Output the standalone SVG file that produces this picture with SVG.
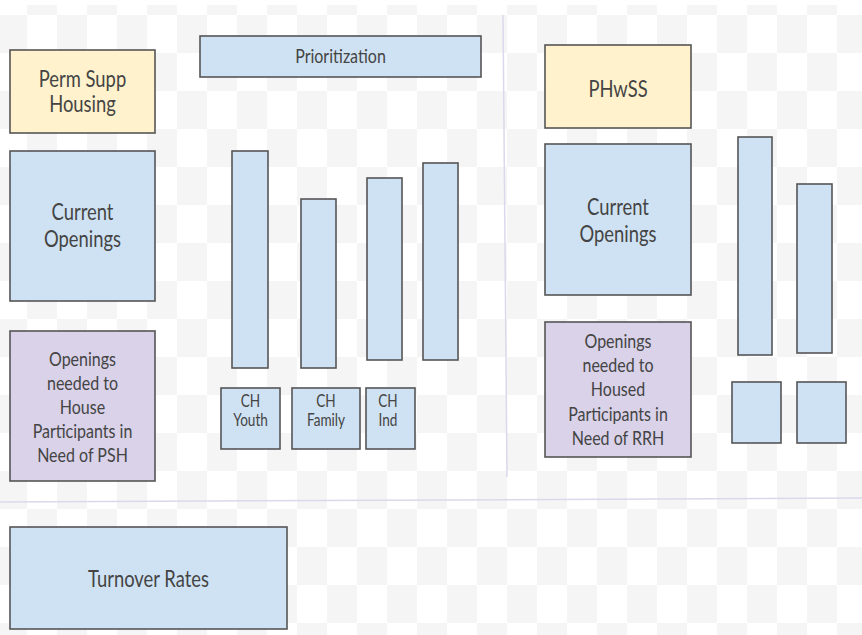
<svg xmlns="http://www.w3.org/2000/svg" width="862" height="635" viewBox="0 0 862 635">
  <defs>
    <pattern id="checker" patternUnits="userSpaceOnUse" x="27" y="15" width="60" height="76">
      <rect x="0" y="0" width="60" height="76" fill="#ffffff"/>
      <rect x="30" y="0" width="30" height="38" fill="#f5f5f5"/>
      <rect x="0" y="38" width="30" height="38" fill="#f5f5f5"/>
    </pattern>
  </defs>
  <style>
    .box { stroke: #555555; stroke-width: 1.6; }
    .blue { fill: #cfe2f3; }
    .yellow { fill: #fff2cc; }
    .purple { fill: #d9d2e9; }
    .t { font-family: Lato, "Open Sans", "Liberation Sans", sans-serif; font-weight: 400; fill: #444444; text-anchor: middle; }
    .big { font-size: 23px; }
    .pri { font-size: 20px; }
    .mid { font-size: 20px; }
    .sm { font-size: 17px; }
    .div { stroke: #dcd8ec; stroke-width: 1.5; fill: none; }
  </style>
  <rect x="0" y="0" width="862" height="635" fill="url(#checker)"/>
  <rect x="0" y="0" width="862" height="5" fill="#ffffff"/>

  <g id="dividers">
    <line class="div" x1="503" y1="15" x2="507" y2="477"/>
    <line class="div" x1="0" y1="502" x2="862" y2="498"/>
  </g>

  <g id="perm-supp-housing">
    <rect class="box yellow" x="10" y="50" width="145" height="83"/>
    <g transform="matrix(0.8 0 0 1 82.5 0)">
      <text class="t big" x="0" y="87">Perm Supp</text>
      <text class="t big" x="0" y="112">Housing</text>
    </g>
  </g>
  <g id="prioritization">
    <rect class="box blue" x="200" y="36" width="281" height="41"/>
    <g transform="matrix(0.8 0 0 1 340.5 0)">
      <text class="t pri" x="0" y="63">Prioritization</text>
    </g>
  </g>
  <g id="current-openings-psh">
    <rect class="box blue" x="10" y="151" width="145" height="150"/>
    <g transform="matrix(0.8 0 0 1 82.5 0)">
      <text class="t big" x="0" y="220">Current</text>
      <text class="t big" x="0" y="247">Openings</text>
    </g>
  </g>
  <g id="openings-needed-psh">
    <rect class="box purple" x="10" y="331" width="145" height="150"/>
    <g transform="matrix(0.8 0 0 1 82.5 0)">
      <text class="t mid" x="0" y="366">Openings</text>
      <text class="t mid" x="0" y="390">needed to</text>
      <text class="t mid" x="0" y="414">House</text>
      <text class="t mid" x="0" y="438">Participants in</text>
      <text class="t mid" x="0" y="462">Need of PSH</text>
    </g>
  </g>
  <g id="bar-ch-youth"><rect class="box blue" x="232" y="151" width="36" height="217"/></g>
  <g id="bar-ch-family"><rect class="box blue" x="301" y="199" width="35" height="169"/></g>
  <g id="bar-ch-ind"><rect class="box blue" x="367" y="178" width="35" height="182"/></g>
  <g id="bar-4"><rect class="box blue" x="423" y="163" width="35" height="197"/></g>
  <g id="ch-youth">
    <rect class="box blue" x="221" y="388" width="59" height="61"/>
    <g transform="matrix(0.8 0 0 1 250.5 0)">
      <text class="t sm" x="0" y="407">CH</text>
      <text class="t sm" x="0" y="426">Youth</text>
    </g>
  </g>
  <g id="ch-family">
    <rect class="box blue" x="292" y="388" width="68" height="61"/>
    <g transform="matrix(0.8 0 0 1 326 0)">
      <text class="t sm" x="0" y="407">CH</text>
      <text class="t sm" x="0" y="426">Family</text>
    </g>
  </g>
  <g id="ch-ind">
    <rect class="box blue" x="366" y="388" width="49" height="61"/>
    <g transform="matrix(0.8 0 0 1 388 0)">
      <text class="t sm" x="0" y="407">CH</text>
      <text class="t sm" x="0" y="426">Ind</text>
    </g>
  </g>

  <g id="phwss">
    <rect class="box yellow" x="545" y="45" width="146" height="83"/>
    <g transform="matrix(0.8 0 0 1 618 0)">
      <text class="t big" x="0" y="97">PHwSS</text>
    </g>
  </g>
  <g id="current-openings-rrh">
    <rect class="box blue" x="545" y="144" width="146" height="151"/>
    <g transform="matrix(0.8 0 0 1 618 0)">
      <text class="t big" x="0" y="215">Current</text>
      <text class="t big" x="0" y="242">Openings</text>
    </g>
  </g>
  <g id="openings-needed-rrh">
    <rect class="box purple" x="545" y="322" width="146" height="135"/>
    <g transform="matrix(0.8 0 0 1 618 0)">
      <text class="t mid" x="0" y="348">Openings</text>
      <text class="t mid" x="0" y="372">needed to</text>
      <text class="t mid" x="0" y="396">Housed</text>
      <text class="t mid" x="0" y="421">Participants in</text>
      <text class="t mid" x="0" y="445">Need of RRH</text>
    </g>
  </g>
  <g id="bar-r1"><rect class="box blue" x="738" y="137" width="34" height="218"/></g>
  <g id="bar-r2"><rect class="box blue" x="797" y="184" width="35" height="169"/></g>
  <g id="box-r1"><rect class="box blue" x="732" y="382" width="49" height="61"/></g>
  <g id="box-r2"><rect class="box blue" x="797" y="382" width="49" height="61"/></g>

  <g id="turnover-rates">
    <rect class="box blue" x="10" y="527" width="277" height="102"/>
    <g transform="matrix(0.8 0 0 1 148.5 0)">
      <text class="t big" x="0" y="587">Turnover Rates</text>
    </g>
  </g>
  <g id="connectors"></g>
</svg>
